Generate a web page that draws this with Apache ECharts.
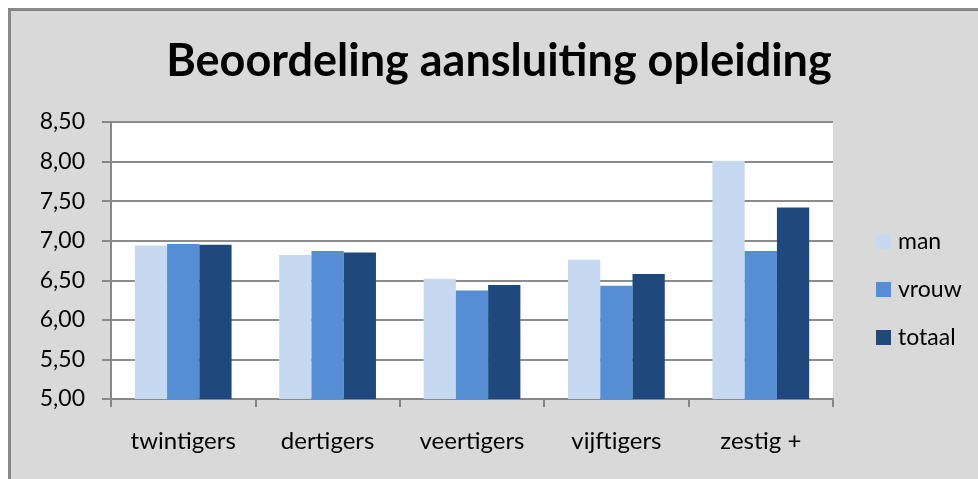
<!DOCTYPE html>
<html>
<head>
<meta charset="utf-8">
<script src="https://cdn.jsdelivr.net/npm/echarts@6/dist/echarts.min.js"></script>
<style>
  html, body { margin: 0; padding: 0; background: #fff; }
  .frame {
    position: absolute;
    left: 8px;
    top: 8px;
    width: 970px;
    height: 471px;
    box-sizing: border-box;
    border-left: 3px solid #878787;
    border-top: 3px solid #878787;
  }
  #chart { width: 967px; height: 468px; }
</style>
</head>
<body>
<div class="frame"><div id="chart"></div></div>
<script>
// leeftijdsgroepen
var categories = ['twintigers', 'dertigers', 'veertigers', 'vijftigers', 'zestig +']
var seriesNames = ['man', 'vrouw', 'totaal']
var man = [6.94, 6.82, 6.52, 6.76, 8.01]
var vrouw = [6.96, 6.87, 6.37, 6.43, 6.87]
var totaal = [6.95, 6.85, 6.44, 6.58, 7.42]
var colors = ['#c6d9f1', '#558ed5', '#1f497d']

var fontFam = 'Lato, "Open Sans", sans-serif'
var chart = echarts.init(document.getElementById('chart'))

var option = {
  backgroundColor: '#d9d9d9',
  animation: false,
  color: colors,
  title: {
    text: 'Beoordeling aansluiting opleiding',
    left: 483,
    top: 45,
    textAlign: 'center',
    textVerticalAlign: 'middle',
    textStyle: {
      fontFamily: fontFam,
      fontWeight: 'bold',
      fontSize: 45,
      color: '#000',
    },
  },
  grid: {
    show: true,
    backgroundColor: '#fff',
    borderWidth: 0,
    left: 100,
    top: 111,
    width: 722,
    height: 277,
  },
  legend: {
    orient: 'vertical',
    left: 865,
    top: 219,
    padding: 0,
    itemWidth: 15,
    itemHeight: 15,
    itemGap: 25,
    icon: 'rect',
    textStyle: {
      fontFamily: fontFam,
      fontSize: 23,
      color: '#000',
      padding: [0, 0, 0, 2],
    },
    data: seriesNames,
  },
  xAxis: {
    type: 'category',
    data: categories,
    axisLine: { lineStyle: { color: '#878787', width: 2 } },
    axisTick: { show: true, length: 8, lineStyle: { color: '#878787', width: 2 } },
    axisLabel: {
      margin: 30,
      fontFamily: fontFam,
      fontSize: 24,
      color: '#000',
    },
  },
  yAxis: {
    type: 'value',
    min: 5,
    max: 8.5,
    interval: 0.5,
    axisLine: { show: true, lineStyle: { color: '#878787', width: 2 } },
    axisTick: { show: true, length: 9, lineStyle: { color: '#878787', width: 2 } },
    splitLine: { lineStyle: { color: '#8c8c8c', width: 2 } },
    axisLabel: {
      margin: 26,
      fontFamily: fontFam,
      fontSize: 23,
      color: '#000',
      formatter: function (v) {
        return v.toFixed(2).replace('.', ',')
      },
    },
  },
  series: [
    { name: seriesNames[0], type: 'bar', data: man, barGap: '0%', barCategoryGap: '33%' },
    { name: seriesNames[1], type: 'bar', data: vrouw, barGap: '0%', barCategoryGap: '33%' },
    { name: seriesNames[2], type: 'bar', data: totaal, barGap: '0%', barCategoryGap: '33%' },
  ],
}
chart.setOption(option)
</script>
</body>
</html>
